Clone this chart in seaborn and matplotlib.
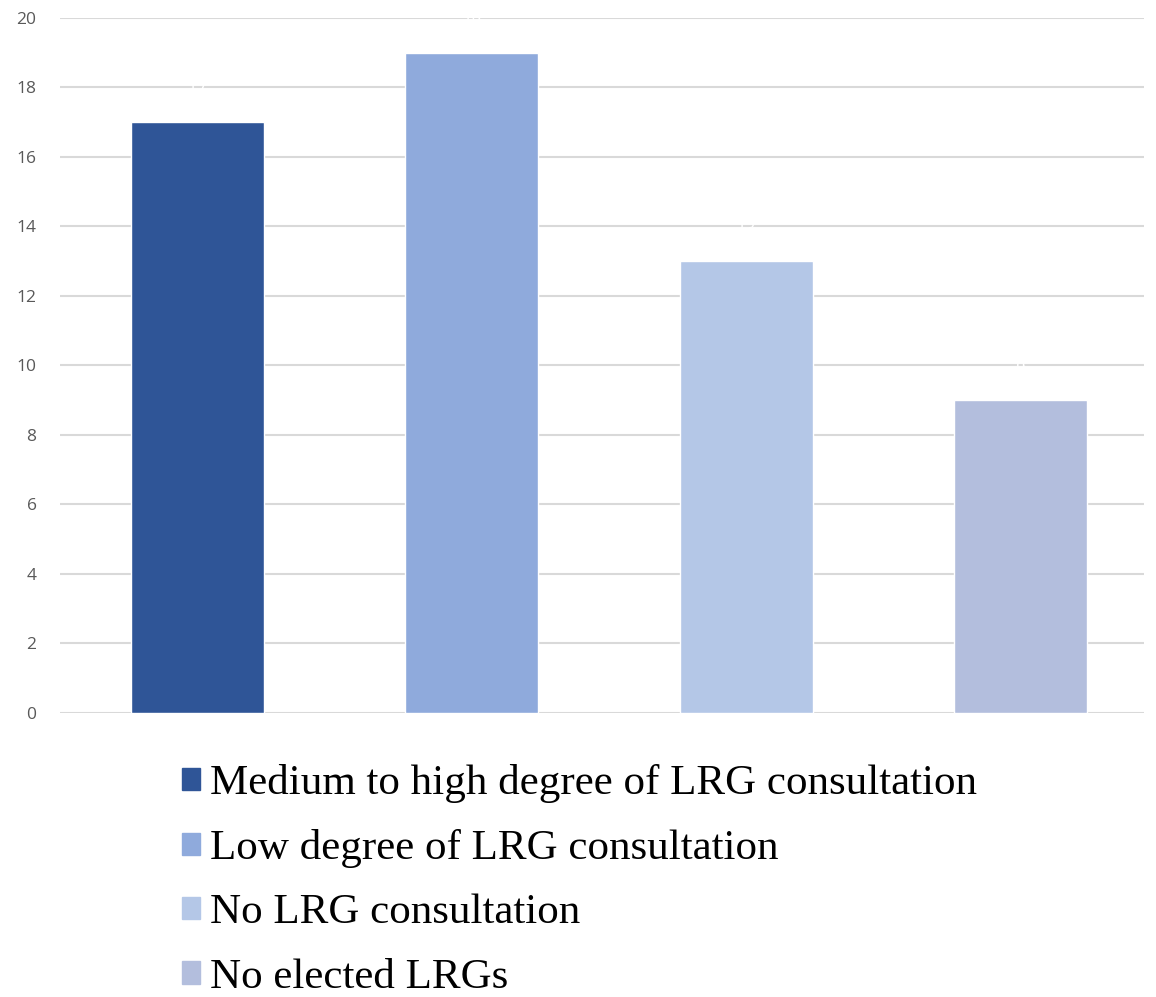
import numpy as np
import pandas as pd
import matplotlib
matplotlib.use("Agg")
import matplotlib.pyplot as plt
import seaborn as sns

categories = ["Medium to high degree of LRG consultation",
              "Low degree of LRG consultation",
              "No LRG consultation",
              "No elected LRGs"]
values = [17, 19, 13, 9]
colors = ["#2F5597", "#8FAADC", "#B4C7E7", "#B3BEDD"]

df = pd.DataFrame({"cat": categories, "val": values})

sns.set_style("white")
fig = plt.figure(figsize=(11.56, 9.97), dpi=100)
ax = fig.add_axes([0.052, 0.285, 0.938, 0.697])

sns.barplot(data=df, x="cat", y="val", hue="cat", palette=colors,
            width=0.485, saturation=1, ax=ax, legend=False, zorder=3)

# white data labels (barely visible, like the original)
for i, v in enumerate(values):
    ax.text(i, v + 0.9, str(v), ha="center", va="center", color="white",
            fontsize=11, zorder=4)

ax.set_ylim(0, 20)
ax.set_xlim(-0.5, 3.45)
ax.set_yticks(np.arange(0, 21, 2))
ax.yaxis.grid(True, color="#D9D9D9", linewidth=1.5, zorder=0)
ax.set_xticks([])
ax.set_xlabel("")
ax.set_ylabel("")
for s in ax.spines.values():
    s.set_visible(False)
ax.tick_params(axis="y", length=0, labelsize=12.5, labelcolor="#595959", pad=17)
for t in ax.get_yticklabels():
    t.set_fontfamily("Open Sans")

handles = [plt.Rectangle((0, 0), 1, 1, color=c) for c in colors]
fig.legend(handles, categories, loc="upper left", bbox_to_anchor=(0.139, 0.255),
           frameon=False, prop={"family": "Liberation Serif", "size": 31},
           handlelength=0.42, handleheight=0.42, handletextpad=0.22,
           labelspacing=0.6, borderpad=0, labelcolor="black")

fig.savefig("out.png", dpi=100)
